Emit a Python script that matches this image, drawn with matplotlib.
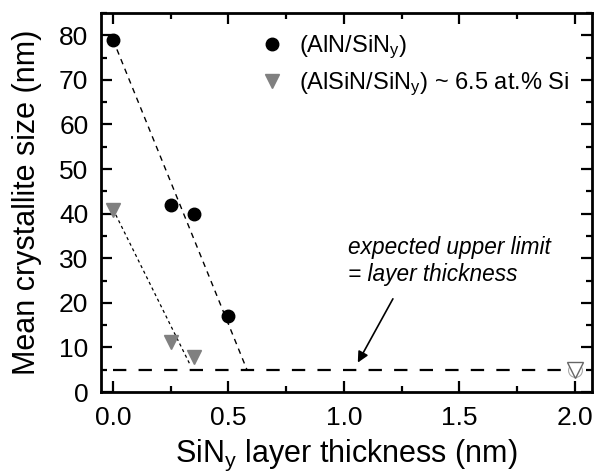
import matplotlib
matplotlib.use("Agg")
import matplotlib.pyplot as plt
from matplotlib.ticker import MultipleLocator

plt.rcParams['font.family'] = ['Liberation Sans', 'DejaVu Sans']
plt.rcParams['mathtext.fontset'] = 'custom'
plt.rcParams['mathtext.rm'] = 'Liberation Sans'
plt.rcParams['mathtext.it'] = 'Liberation Sans:italic'

# Measured crystallite sizes
aln_thickness = [0.0, 0.25, 0.35, 0.5]
aln_size = [79, 42, 40, 17]
alsin_thickness = [0.0, 0.25, 0.35]
alsin_size = [40.8, 11.2, 7.8]

# Linear guides through each series
aln_fit_x = [0.0, 0.58]
aln_fit_y = [79, 5]
alsin_fit_x = [0.0, 0.335]
alsin_fit_y = [41, 6]

# Upper limit set by the layer thickness
limit_x = [0.0, 2.0]
limit_y = [5, 5]
open_point_x = [2.0]
open_point_y = [5]

fig = plt.figure(figsize=(5.99, 4.75), dpi=100)
ax = fig.add_axes([0.1686, 0.1747, 0.8197, 0.7979])

ax.plot(aln_fit_x, aln_fit_y, color='black', lw=1.0, dashes=(4, 3.5), zorder=2)
ax.plot(alsin_fit_x, alsin_fit_y, color='black', lw=0.9, dashes=(2.5, 2.5), zorder=2)
ax.plot(limit_x, limit_y, color='black', lw=1.6, dashes=(6, 5.5), zorder=2)

ax.plot(aln_thickness, aln_size, 'o', color='black', ms=9,
        label=r'(AlN/SiN$_\mathregular{y}$)', zorder=4)
ax.plot(alsin_thickness, alsin_size, 'v', color='#808080', ms=10.5,
        label=r'(AlSiN/SiN$_\mathregular{y}$) ~ 6.5 at.% Si', zorder=4)
ax.plot(open_point_x, open_point_y, 'o', mfc='white', mec='#aaaaaa', mew=0.8,
        ms=10, zorder=5)
ax.plot(open_point_x, open_point_y, 'v', mfc='white', mec='#666666', mew=1.0,
        ms=11, zorder=6)

ax.set_xlim(-0.052, 2.074)
ax.set_ylim(0, 85)
ax.xaxis.set_major_locator(MultipleLocator(0.5))
ax.xaxis.set_minor_locator(MultipleLocator(0.25))
ax.yaxis.set_major_locator(MultipleLocator(10))
ax.yaxis.set_minor_locator(MultipleLocator(5))
ax.xaxis.set_major_formatter(matplotlib.ticker.FormatStrFormatter('%.1f'))

ax.tick_params(which='both', direction='in', top=True, right=True,
               labelsize=19, width=1.6)
ax.tick_params(axis='x', pad=10)
ax.tick_params(axis='y', pad=9)
ax.tick_params(which='major', length=8)
ax.tick_params(which='minor', length=4.5)
for s in ax.spines.values():
    s.set_linewidth(2.0)

ax.set_xlabel(r'SiN$_\mathregular{y}$ layer thickness (nm)', fontsize=22, labelpad=6)
ax.set_ylabel('Mean crystallite size (nm)', fontsize=22, labelpad=12)

ax.legend(loc='upper left', bbox_to_anchor=(0.272, 1.008), frameon=False,
          fontsize=17, handletextpad=0.55, labelspacing=0.42, borderpad=0.5,
          handlelength=1.2)

ax.text(1.017, 29.4, 'expected upper limit\n= layer thickness', fontsize=16.3,
        style='italic', ha='left', va='center', linespacing=1.2)
ax.annotate('', xy=(1.06, 6.6), xytext=(1.212, 20.9),
            arrowprops=dict(arrowstyle='-|>', color='black', lw=1.2,
                            mutation_scale=16, shrinkA=0, shrinkB=0))

fig.savefig('out.png', dpi=100)
